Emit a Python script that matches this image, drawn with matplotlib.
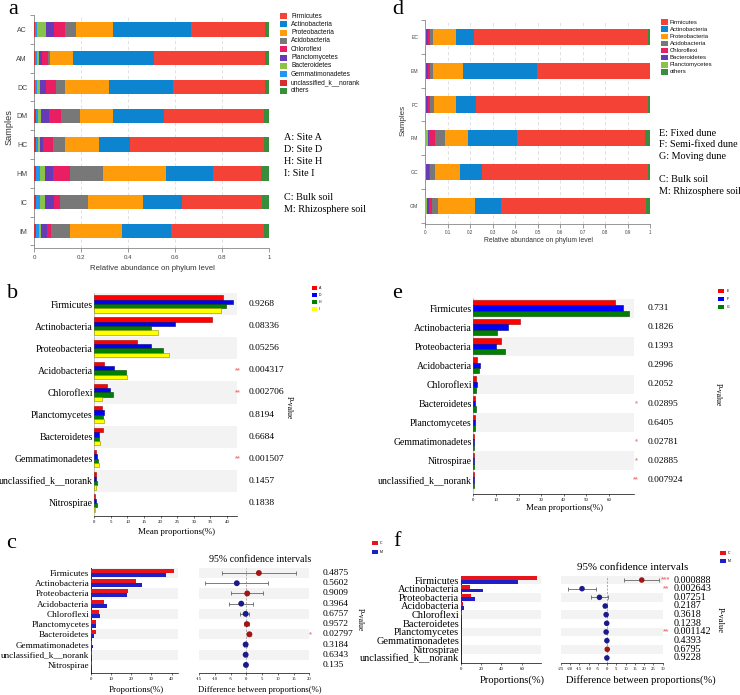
import matplotlib
matplotlib.use('Agg')
import matplotlib.pyplot as plt
from matplotlib.patches import Rectangle
from matplotlib.transforms import blended_transform_factory
import numpy as np

# ---------------- data ----------------
# panel a
a_samples = ['AC', 'AM', 'DC', 'DM', 'HC', 'HM', 'IC', 'IM']
a_unclass = [.006, .006, .006, .008, .008, .010, .008, .008]
a_gemma = [.006, .006, .006, .010, .010, .017, .017, .012]
a_bactero = [.038, .008, .013, .012, .007, .018, .023, .010]
a_plancto = [.035, .015, .025, .035, .015, .037, .035, .025]
a_chloro = [.048, .025, .045, .050, .042, .073, .029, .018]
a_acido = [.047, .007, .035, .082, .048, .140, .116, .082]
a_proteo = [.155, .100, .190, .141, .147, .265, .235, .218]
a_actino = [.333, .343, .270, .215, .133, .200, .165, .212]
a_firmi = [.317, .475, .395, .427, .570, .205, .344, .395]
a_others = [.015, .015, .015, .020, .020, .035, .028, .020]
a_legend = ['Firmicutes', 'Actinobacteria', 'Proteobacteria', 'Acidobacteria', 'Chloroflexi',
            'Planctomycetes', 'Bacteroidetes', 'Gemmatimonadetes', 'unclassified_k__norank', 'others']
a_notes = ['A: Site A', 'D: Site D', 'H: Site H', 'I: Site I', '', 'C: Bulk soil', 'M: Rhizosphere soil']

# panel d
d_samples = ['EC', 'EM', 'FC', 'FM', 'GC', 'GM']
d_plancto = [.003, .004, .003, .012, .005, .006]
d_bactero = [.007, .008, .007, .004, .010, .010]
d_chloro = [.012, .011, .010, .029, .005, .014]
d_acido = [.011, .012, .018, .042, .025, .026]
d_proteo = [.104, .134, .098, .103, .110, .167]
d_actino = [.078, .328, .089, .218, .098, .114]
d_firmi = [.775, .501, .765, .569, .737, .645]
d_others = [.010, .002, .010, .023, .010, .018]
d_legend = ['Firmicutes', 'Actinobacteria', 'Proteobacteria', 'Acidobacteria', 'Chloroflexi',
            'Bacteroidetes', 'Planctomycetes', 'others']
d_notes = ['E: Fixed dune', 'F: Semi-fixed dune', 'G: Moving dune', '', 'C: Bulk soil', 'M: Rhizosphere soil']

# panel b
b_phyla = ['Firmicutes', 'Actinobacteria', 'Proteobacteria', 'Acidobacteria', 'Chloroflexi',
           'Planctomycetes', 'Bacteroidetes', 'Gemmatimonadetes', 'unclassified_k__norank', 'Nitrospirae']
b_groups = ['A', 'D', 'H', 'I']
b_A = [38.7, 35.6, 13.0, 2.9, 3.8, 2.4, 2.6, 0.5, 0.4, 0.3]
b_D = [41.7, 24.3, 17.0, 5.9, 4.7, 3.0, 1.5, 0.7, 0.6, 0.4]
b_H = [39.7, 17.0, 20.7, 9.7, 5.5, 2.6, 1.5, 1.0, 0.9, 0.7]
b_I = [38.2, 19.3, 22.4, 10.0, 2.4, 3.0, 1.8, 1.3, 0.6, 0.2]
b_p = ['0.9268', '0.08336', '0.05256', '0.004317', '0.002706', '0.8194', '0.6684', '0.001507', '0.1457', '0.1838']
b_stars = ['', '', '', '**', '**', '', '', '**', '', '']
b_ticks = [0, 5, 10, 15, 20, 25, 30, 35, 40]

# panel e
e_phyla = ['Firmicutes', 'Actinobacteria', 'Proteobacteria', 'Acidobacteria', 'Chloroflexi',
           'Bacteroidetes', 'Planctomycetes', 'Gemmatimonadetes', 'Nitrospirae', 'unclassified_k__norank']
e_groups = ['E', 'F', 'G']
e_E = [62.7, 20.6, 12.2, 1.5, 1.0, 0.6, 0.7, 0.3, 0.2, 0.1]
e_F = [66.1, 15.5, 10.0, 3.0, 1.8, 0.8, 0.9, 0.4, 0.3, 0.15]
e_G = [69.0, 10.3, 13.9, 2.4, 1.0, 1.0, 0.8, 0.5, 0.2, 0.1]
e_p = ['0.731', '0.1826', '0.1393', '0.2996', '0.2052', '0.02895', '0.6405', '0.02781', '0.02885', '0.007924']
e_stars = ['', '', '', '', '', '*', '', '*', '*', '**']
e_ticks = [0, 10, 20, 30, 40, 50, 60]

# panel c
c_phyla = ['Firmicutes', 'Actinobacteria', 'Proteobacteria', 'Acidobacteria', 'Chloroflexi',
           'Planctomycetes', 'Bacteroidetes', 'Gemmatimonadetes', 'unclassified_k__norank', 'Nitrospirae']
c_C = [41.2, 22.4, 18.3, 6.6, 4.1, 2.8, 2.6, 0.7, 0.6, 0.4]
c_M = [37.0, 25.2, 17.8, 7.9, 4.4, 2.8, 1.5, 1.0, 0.8, 0.5]
c_diff = [4.0, -3.0, 0.3, -1.6, -0.2, 0.2, 1.0, -0.2, -0.2, -0.1]
c_lo = [-7.7, -13.0, -5.0, -5.5, -2.0, -0.7, 0.3, -0.6, -0.6, -0.5]
c_hi = [15.8, 7.0, 5.4, 2.2, 1.0, 0.8, 1.6, 0.2, 0.2, 0.3]
c_p = ['0.4875', '0.5602', '0.9009', '0.3964', '0.6757', '0.9572', '0.02797', '0.3184', '0.6343', '0.135']
c_stars = ['', '', '', '', '', '', '*', '', '', '']
c_ticks = [0, 10, 20, 30, 40]
c_dticks = [-15, -10, -5, 0, 5, 10, 15, 20]

# panel f
f_phyla = ['Firmicutes', 'Actinobacteria', 'Proteobacteria', 'Acidobacteria', 'Chloroflexi',
           'Bacteroidetes', 'Planctomycetes', 'Gemmatimonadetes', 'Nitrospirae', 'unclassified_k__norank']
f_C = [75.4, 9.2, 10.5, 2.0, 1.0, 0.5, 0.4, 0.3, 0.3, 0.1]
f_M = [56.7, 22.3, 14.4, 3.0, 1.5, 0.6, 0.9, 0.4, 0.2, 0.2]
f_diff = [18.7, -13.5, -4.1, -1.0, -0.5, -0.2, -0.5, -0.1, 0.1, -0.1]
f_lo = [9.2, -21.2, -8.5, -2.2, -1.2, -0.6, -0.8, -0.4, -0.2, -0.4]
f_hi = [28.2, -5.8, 0.3, 0.2, 0.2, 0.2, -0.2, 0.2, 0.4, 0.2]
f_p = ['0.000888', '0.002643', '0.07251', '0.2187', '0.3618', '0.1238', '0.001142', '0.4393', '0.6795', '0.9228']
f_stars = ['***', '**', '', '', '', '', '**', '', '', '']
f_ticks = [0, 20, 40, 60]
f_dticks = [-25, -20, -15, -10, -5, 0, 5, 10, 15, 20, 25, 30]

# ---------------- style ----------------
phylum_colors = {
    'Firmicutes': '#F44336', 'Actinobacteria': '#0D84D0', 'Proteobacteria': '#FF9C0C',
    'Acidobacteria': '#787878', 'Chloroflexi': '#E91E63', 'Planctomycetes': '#673AB7',
    'Bacteroidetes': '#8BC34A', 'Gemmatimonadetes': '#2196F3',
    'unclassified_k__norank': '#D32F2F', 'others': '#388E3C'}
d_colors = dict(phylum_colors)
d_colors['Bacteroidetes'] = '#673AB7'
d_colors['Planctomycetes'] = '#8BC34A'

SERIF = 'Liberation Serif'
SANS = 'Liberation Sans'
STAR = '#F08080'
BAND = '#F3F3F3'

W, H = 740, 695
fig = plt.figure(figsize=(W / 100, H / 100), dpi=100)


def axpx(x0, y0, x1, y1):
    return fig.add_axes([x0 / W, 1 - y1 / H, (x1 - x0) / W, (y1 - y0) / H])


def ftext(x, y, s, **kw):
    fig.text(x / W, 1 - y / H, s, **kw)


def frect(x0, y0, w, h, color, ec='none'):
    fig.patches.append(Rectangle((x0 / W, 1 - (y0 + h) / H), w / W, h / H,
                                 transform=fig.transFigure, facecolor=color,
                                 edgecolor=ec, lw=0.4))


# ---------------- stacked panels ----------------
def stacked(ax, samples, stack, colors, ticks, ticklabels, ylab_size, xlab_size, height):
    y = np.arange(len(samples))
    left = np.zeros(len(samples))
    for name, vals in stack:
        v = np.array(vals)
        ax.barh(y, v, left=left, height=height, color=colors[name], linewidth=0, zorder=3)
        left += v
    ax.set_xlim(0, 1)
    ax.set_xticks(ticks)
    ax.set_xticklabels(ticklabels, fontsize=xlab_size, family=SANS, color='#444')
    ax.set_yticks(y)
    ax.set_yticklabels(samples, fontsize=ylab_size, family=SANS, color='#444')
    ax.set_yticks(np.arange(len(samples) + 1) - 0.5, minor=True)
    ax.tick_params(axis='y', which='major', length=0, pad=5)
    ax.tick_params(axis='y', which='minor', length=3, color='#888', width=0.6)
    ax.tick_params(axis='x', length=3, color='#888', width=0.6, pad=2)
    for s in ['top', 'right']:
        ax.spines[s].set_visible(False)
    for s in ['left', 'bottom']:
        ax.spines[s].set_color('#888')
        ax.spines[s].set_linewidth(0.6)
    ax.xaxis.grid(True, linestyle=(0, (4, 3)), color='#DDDDDD', lw=0.6)
    ax.set_axisbelow(True)


axa = axpx(34, 15, 269, 248)
stacked(axa, a_samples,
        [('unclassified_k__norank', a_unclass), ('Gemmatimonadetes', a_gemma),
         ('Bacteroidetes', a_bactero), ('Planctomycetes', a_plancto),
         ('Chloroflexi', a_chloro), ('Acidobacteria', a_acido),
         ('Proteobacteria', a_proteo), ('Actinobacteria', a_actino),
         ('Firmicutes', a_firmi), ('others', a_others)],
        phylum_colors, [0, .2, .4, .6, .8, 1], ['0', '0.2', '0.4', '0.6', '0.8', '1'], 5, 4.4, 0.5)
axa.set_ylim(len(a_samples) - 0.5 + 0.09, -0.5)
ftext(152, 268, 'Relative abundance on phylum level', fontsize=5.6, family=SANS,
      color='#333', ha='center', va='center')
ftext(9, 127, 'Samples', fontsize=6.6, family=SANS, color='#333', rotation=90, ha='center', va='center')
for i, name in enumerate(a_legend):
    yy = 16 + i * 8.33
    frect(280, yy - 3, 7, 6, phylum_colors[name])
    ftext(291, yy, name, fontsize=4.8, family=SANS, color='#111', va='center')
for i, t in enumerate(a_notes):
    if t:
        ftext(284, 138 + i * 12, t, fontsize=7.3, family=SERIF, va='center')

axd = axpx(425.3, 20, 650.3, 223.5)
stacked(axd, d_samples,
        [('Planctomycetes', d_plancto), ('Bacteroidetes', d_bactero),
         ('Chloroflexi', d_chloro), ('Acidobacteria', d_acido),
         ('Proteobacteria', d_proteo), ('Actinobacteria', d_actino),
         ('Firmicutes', d_firmi), ('others', d_others)],
        d_colors, [i / 10 for i in range(11)],
        ['0', '0.1', '0.2', '0.3', '0.4', '0.5', '0.6', '0.7', '0.8', '0.9', '1'], 3.7, 3.3, 0.48)
axd.set_ylim(len(d_samples) - 0.5 + 0.02, -0.5)
ftext(538, 241, 'Relative abundance on phylum level', fontsize=4.9, family=SANS,
      color='#333', ha='center', va='center')
ftext(403, 120, 'Samples', fontsize=5.8, family=SANS, color='#333', rotation=90, ha='center', va='center')
for i, name in enumerate(d_legend):
    yy = 22 + i * 7.14
    frect(661, yy - 2.7, 7, 5.4, d_colors[name])
    ftext(670, yy, name, fontsize=4.3, family=SANS, color='#111', va='center')
for i, t in enumerate(d_notes):
    if t:
        ftext(659, 133 + i * 11.6, t, fontsize=7.3, family=SERIF, va='center')


# ---------------- grouped bar panels (b, e) ----------------
def grouped(ax, phyla, series, colors, edges, h, xmax, ticks, lab_size):
    n = len(phyla)
    y = np.arange(n)
    for i in range(0, n, 2):
        ax.axhspan(i - 0.5, i + 0.5, color=BAND, lw=0, zorder=0)
    k = len(series)
    for j, vals in enumerate(series):
        off = (j - (k - 1) / 2) * h
        ax.barh(y + off, vals, height=h, color=colors[j], edgecolor=edges[j], lw=0.4, zorder=3)
    ax.set_xlim(0, xmax)
    ax.set_yticks(y)
    ax.set_yticklabels(phyla, fontsize=lab_size, family=SERIF)
    ax.tick_params(axis='y', length=0, pad=1)
    ax.set_xticks(ticks)
    ax.set_xticklabels([str(t) for t in ticks], fontsize=3.5, family=SERIF)
    ax.tick_params(axis='x', length=1.5, width=0.4, pad=1.5)
    for s in ['top', 'right']:
        ax.spines[s].set_visible(False)
    ax.spines['left'].set_color('#999')
    ax.spines['left'].set_linewidth(0.4)
    ax.spines['bottom'].set_linewidth(0.5)


def pvals(ax, xp, xs, ps, stars, size):
    tr = blended_transform_factory(fig.transFigure, ax.transData)
    for i, (p, s) in enumerate(zip(ps, stars)):
        ax.text(xp / W, i, p, transform=tr, fontsize=size, family=SERIF, va='center', ha='left',
                clip_on=False)
        if s:
            ax.text(xs / W, i, s, transform=tr, fontsize=size * 0.8, color=STAR, va='center',
                    ha='center', clip_on=False, family=SANS, weight='bold')


axb = axpx(94.3, 293, 237, 516)
grouped(axb, b_phyla, [b_A, b_D, b_H, b_I], ['#FF0000', '#0000FF', '#008000', '#FFFF00'],
        ['#A00000', '#000080', '#004000', '#8C8C00'], 0.196, 43, b_ticks, 7)
axb.set_ylim(len(b_phyla) - 0.5 + 0.09, -0.5)
pvals(axb, 249, 238, b_p, b_stars, 6.8)
ftext(289, 408, 'P-value', fontsize=5.5, family=SERIF, rotation=-90, ha='center', va='center')
ftext(177, 532, 'Mean proportions(%)', fontsize=6.4, family=SERIF, ha='center', va='center')
for i, (g, c) in enumerate(zip(b_groups, ['#FF0000', '#0000FF', '#008000', '#FFFF00'])):
    frect(312, 286 + i * 7, 5, 4, c)
    ftext(319, 288 + i * 7, g, fontsize=2.5, family=SANS, va='center')

axe = axpx(473.3, 298.5, 633.8, 494)
grouped(axe, e_phyla, [e_E, e_F, e_G], ['#FF0000', '#0000FF', '#008000'],
        ['#A00000', '#000080', '#004000'], 0.28, 71, e_ticks, 7)
axe.set_ylim(len(e_phyla) - 0.5 + 0.23, -0.5)
pvals(axe, 648, 636, e_p, e_stars, 6.8)
ftext(718, 395, 'P-value', fontsize=5.5, family=SERIF, rotation=-90, ha='center', va='center')
ftext(565, 508, 'Mean proportions(%)', fontsize=6.4, family=SERIF, ha='center', va='center')
for i, (g, c) in enumerate(zip(e_groups, ['#FF0000', '#0000FF', '#008000'])):
    frect(718, 289 + i * 8, 6, 4, c)
    ftext(727, 291 + i * 8, g, fontsize=2.5, family=SANS, va='center')


# ---------------- extended error bar panels (c, f) ----------------
def ext_bar(axl, axr, phyla, cvals, mvals, diff, lo, hi, h, xmax, ticks, xr, dticks, lab_size, ms):
    n = len(phyla)
    y = np.arange(n)
    for ax in (axl, axr):
        for i in range(0, n, 2):
            ax.axhspan(i - 0.5, i + 0.5, color=BAND, lw=0, zorder=0)
        for s in ['top', 'right']:
            ax.spines[s].set_visible(False)
        ax.spines['bottom'].set_linewidth(0.5)
        ax.tick_params(axis='x', length=1.5, width=0.4, pad=1.5)
    axl.barh(y - h / 2, cvals, height=h, color='#E8141C', lw=0, zorder=3)
    axl.barh(y + h / 2, mvals, height=h, color='#1F1FC8', lw=0, zorder=3)
    axl.set_xlim(0, xmax)
    axl.set_xticks(ticks)
    axl.set_xticklabels([str(t) for t in ticks], fontsize=3.5, family=SERIF)
    axl.set_yticks(y)
    axl.set_yticklabels(phyla, fontsize=lab_size, family=SERIF)
    axl.tick_params(axis='y', length=0, pad=1)
    axl.spines['left'].set_linewidth(0.6)
    d = np.array(diff)
    err = [d - np.array(lo), np.array(hi) - d]
    axr.errorbar(d, y, xerr=err, fmt='none', ecolor='#666666', elinewidth=0.6, capsize=1.5,
                 capthick=0.6, zorder=3)
    cols = ['#A31515' if v > 0 else '#1A1A8C' for v in d]
    axr.scatter(d, y, s=ms, c=cols, zorder=4, linewidths=0)
    axr.axvline(0, ls=(0, (3, 2)), color='#888888', lw=0.5, zorder=2)
    axr.set_xlim(*xr)
    axr.set_xticks(dticks)
    axr.set_xticklabels([str(t) for t in dticks], fontsize=3.3, family=SERIF)
    axr.set_yticks([])
    axr.spines['left'].set_visible(False)


axcl = axpx(90.7, 567.9, 177.6, 673)
axcr = axpx(199, 567.9, 309.3, 673)
ext_bar(axcl, axcr, c_phyla, c_C, c_M, c_diff, c_lo, c_hi, 0.39, 42.9, c_ticks, (-15, 20),
        c_dticks, 6.6, 18)
for ax in (axcl, axcr):
    ax.set_ylim(len(c_phyla) - 0.5 + 0.29, -0.5)
pvals(axcr, 323, 310, c_p, c_stars, 6.8)
ftext(260, 560, '95% confidence intervals', fontsize=7.2, family=SERIF, ha='center', va='center')
ftext(136, 690, 'Proportions(%)', fontsize=6.4, family=SERIF, ha='center', va='center')
ftext(260, 690, 'Difference between proportions(%)', fontsize=6.2, family=SERIF, ha='center', va='center')
ftext(360, 620, 'P-value', fontsize=5.5, family=SERIF, rotation=-90, ha='center', va='center')
frect(372, 541, 6, 4, '#E8141C')
frect(372, 550, 6, 4, '#1F1FC8')
ftext(380, 543, 'C', fontsize=2.5, family=SANS, va='center')
ftext(380, 552, 'M', fontsize=2.5, family=SANS, va='center')

axfl = axpx(460.7, 575.7, 540.7, 662.7)
axfr = axpx(560.7, 575.7, 662.7, 662.7)
ext_bar(axfl, axfr, f_phyla, f_C, f_M, f_diff, f_lo, f_hi, 0.42, 78.7, f_ticks, (-25, 30),
        f_dticks, 7.5, 16)
for ax in (axfl, axfr):
    ax.set_ylim(len(f_phyla) - 0.5 + 0.05, -0.5)
pvals(axfr, 674, 666, f_p, f_stars, 7.3)
ftext(633, 567, '95% confidence intervals', fontsize=7.8, family=SERIF, ha='center', va='center')
ftext(512, 680, 'Proportions(%)', fontsize=7.6, family=SERIF, ha='center', va='center')
ftext(641, 680, 'Difference between proportions(%)', fontsize=7.6, family=SERIF, ha='center', va='center')
ftext(720, 620, 'P-value', fontsize=6, family=SERIF, rotation=-90, ha='center', va='center')
frect(720, 551, 6, 4, '#E8141C')
frect(720, 559, 6, 4, '#1F1FC8')
ftext(728, 553, 'C', fontsize=2.5, family=SANS, va='center')
ftext(728, 561, 'M', fontsize=2.5, family=SANS, va='center')

# ---------------- panel letters ----------------
for letter, (x, y) in {'a': (13, 10), 'b': (13, 293), 'c': (11, 544),
                       'd': (398, 9), 'e': (397, 293), 'f': (397, 542)}.items():
    ftext(x, y, letter, fontsize=16, family=SERIF, ha='center', va='center')

fig.savefig('out.png', dpi=100)
